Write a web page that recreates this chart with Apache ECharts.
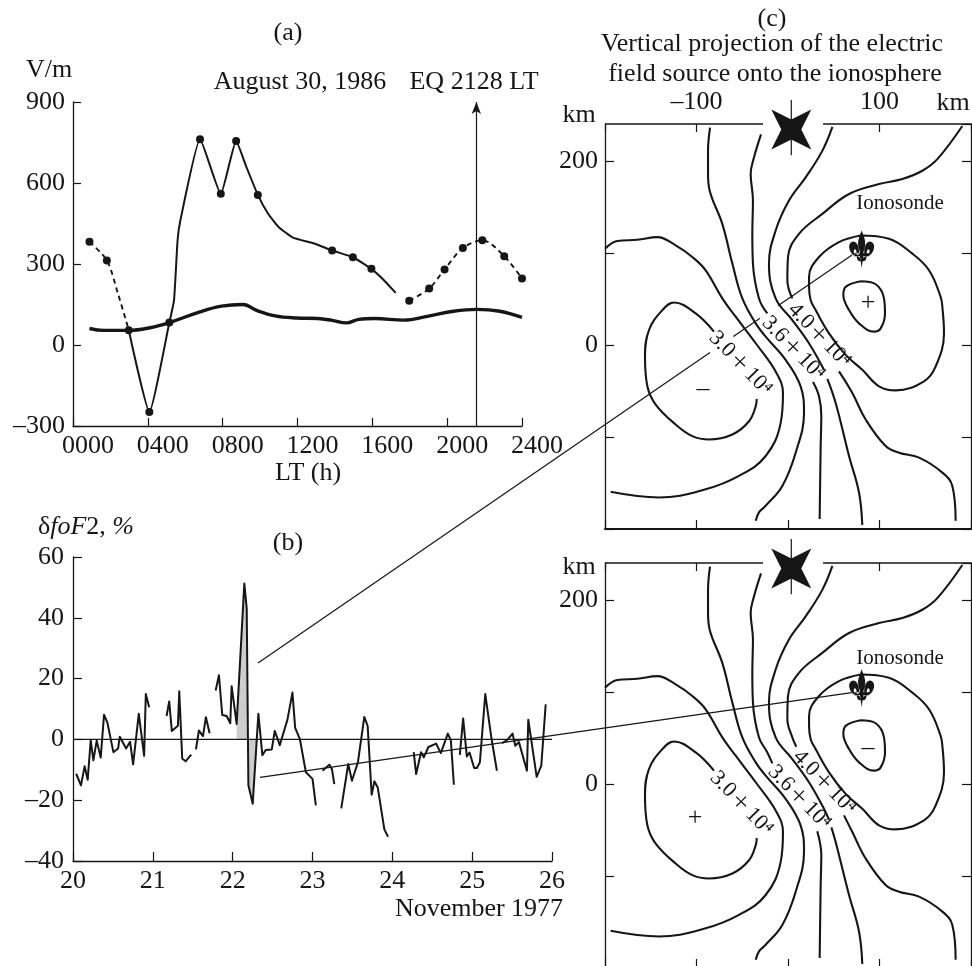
<!DOCTYPE html>
<html><head><meta charset="utf-8">
<style>html,body{margin:0;padding:0;background:#fff}#c{width:972px;height:966px}</style>
<script src="https://cdn.jsdelivr.net/npm/echarts@6/dist/echarts.min.js"></script></head>
<body><div id="c"></div>
<script>
// ---------- panel (a): electric field, V/m vs local time
const aTimeTicks = ['0000','0400','0800','1200','1600','2000','2400'];
const aSolid = [[298,55],[408,-248],[515,83],[540,166],[559,388],[574,462],[679,762],[790,560],[872,756],[927,659],[988,556],[1042,487],[1099,437],[1175,398],[1290,376],[1385,350],[1496,325],[1595,282],[1662,240],[1725,193]];
const aDashLeft = [[88,382],[181,313],[240,191],[298,55]];
const aDashRight = [[1797,164],[1904,209],[1986,280],[2084,359],[2188,388],[2305,329],[2400,246]];
const aThick = [[88,61],[164,54],[298,54],[412,64],[515,83],[679,123],[794,144],[908,150],[985,127],[1080,108],[1194,100],[1309,98],[1385,91],[1462,82],[1528,95],[1614,98],[1767,92],[1900,107],[2034,125],[2158,132],[2282,125],[2400,102]];
const aDots = [[88,382],[181,313],[298,55],[408,-248],[515,83],[679,762],[790,560],[872,756],[988,556],[1385,350],[1496,325],[1595,282],[1797,164],[1904,209],[1986,280],[2084,359],[2188,388],[2305,329],[2400,246]];
const aQuakeTime = 2156;
// ---------- panel (b): delta foF2, % vs day of November 1977
const b1 = [[20.04,-11.3],[20.10,-15.1],[20.146,-8.8],[20.184,-13.3],[20.222,-0.2],[20.255,-6.9],[20.297,-0.4],[20.347,-6],[20.389,8.1],[20.431,5.5],[20.506,-4.2],[20.565,-3],[20.586,0.9],[20.665,-3],[20.715,-0.8],[20.753,-8.2],[20.824,8.4],[20.891,-5.4],[20.912,14.9],[20.954,10.6]];
const b2 = [[21.172,7.7],[21.205,12.5],[21.238,2.8],[21.314,4.5],[21.331,15.8],[21.368,-6.3],[21.41,-7.2],[21.481,-5]];
const b3 = [[21.54,-3.3],[21.577,2.9],[21.628,1.1],[21.665,7.3],[21.711,2]];
const b4 = [[21.787,16.1],[21.828,21.1],[21.87,8],[21.925,7.7],[21.97,5.3],[21.987,17.5],[22.05,5.1],[22.146,51.3],[22.176,43],[22.197,-15.1],[22.251,-21.2],[22.322,8.4],[22.372,-5.2],[22.414,-3.5],[22.49,-3.3],[22.527,2.8],[22.59,-1.9],[22.686,6.5],[22.749,15.4],[22.783,3.8],[22.841,0.2],[22.917,-10.8],[23.0,-13],[23.042,-21.7]];
const b5 = [[23.126,-10.3],[23.21,-8.3],[23.243,-9.7],[23.273,-14.7]];
const b6 = [[23.36,-22.7],[23.448,-8.1],[23.494,-13.6],[23.569,-7.5],[23.649,7.4],[23.691,4.4],[23.741,-18.2],[23.775,-13.8],[23.817,-15.8],[23.9,-29.6],[23.946,-32]];
const b7 = [[24.268,-4.2],[24.298,-11.4],[24.36,-4.2],[24.394,-5.9],[24.452,-2.5],[24.549,-1.4],[24.607,-4.5],[24.695,1.9],[24.733,-0.3],[24.771,-14.9]];
const b8 = [[24.845,-5.1],[24.887,6.9],[24.933,-5.6],[24.967,-4.3],[25.025,-9.4],[25.059,-9.4],[25.097,-7.5],[25.164,14.9],[25.239,0.8],[25.31,-10.3]];
const b9 = [[25.373,-1.2],[25.435,-0.3],[25.506,1.9],[25.54,-2.1],[25.586,-0.9],[25.686,-10.3],[25.703,6.5],[25.808,-12.3],[25.866,-8.6],[25.921,11.5]];
const bShade = [[22.05,0],[22.05,5.1],[22.146,51.3],[22.176,43],[22.19,0],[22.197,-15.1],[22.251,-21.2],[22.31,0]];
// ---------- panel (c): contour lines, km
const c1 = [[-200,104.5],[-186.5,112.8],[-164.7,114.2],[-142.8,117.1],[-122.8,108.1],[-104.6,95.5],[-90,81.1],[-71.8,50.5],[-57.2,30.6],[-35.3,1.8],[-13.5,-28.8],[-5.5,-52.3],[-8,-84.7],[-24.4,-120.7],[-53.6,-142.3],[-90,-156.8],[-141,-165.8],[-193.8,-159.6]];
const c2 = [[-85.2,236],[-87.4,210.8],[-87.4,185.6],[-85.6,167.6],[-71.8,131.5],[-60.8,88.3],[-49.9,50.5],[-35.3,23.4],[-24.4,9],[-2.6,-16.2],[13.8,-45],[17.5,-73.9],[8.4,-117.1],[-6.2,-153.2],[-24.4,-174.8],[-31.7,-182],[-35.3,-191]];
const c3Head = [[-29.5,228.8],[-37.2,203.6],[-40.8,185.6],[-38.3,156.8],[-39,120.7],[-38.3,88.3],[-31.7,50.5],[-22.6,34.2]];
const c3Tail = [[27.3,-40.4],[33.9,-55.9],[36.4,-77.5],[35.7,-109.9],[34.6,-189.2]];
const c3HeadLow = [[-17.1,22.3]];
const c3TailLow = [[32,-51.5],[36.4,-77.5],[35.7,-109.9],[34.6,-189.2]];
const c4Head = [[48.5,236.8],[37.5,210.8],[19.3,182],[1.1,156.8],[-13.5,124.3],[-20.8,88.3],[-13.5,50.5],[4.7,27],[22.9,1.8],[39.3,-27]];
const c4Tail = [[43,-36.8],[52.1,-63.1],[66.7,-120.7],[77.6,-160.4],[81.2,-195.7]];
const c4HeadLow = [[44.8,-38.9]];
const c4TailLow = [[47.4,-47.2],[52.1,-63.1],[66.7,-120.7],[77.6,-160.4],[81.2,-195.7]];
const c5Head = [[190.5,237.8],[163.2,201.8],[146.8,189.2],[125,180.2],[99.5,174.8],[66.7,164],[37.5,142.3],[12,120.7],[0,95.5],[-0.7,70.3],[4.7,50.5]];
const c5Tail = [[55.7,-28.8],[70.3,-52.3],[84.9,-81.1],[106.7,-109.9],[121.3,-117.1],[143.2,-122.5],[168.7,-138.7],[179.6,-153.2],[183.2,-191]];
const c5HeadLow = [[9.1,40.4]];
const c5TailLow = [[61.2,-34.2],[70.3,-52.3],[84.9,-81.1],[106.7,-109.9],[121.3,-117.1],[143.2,-122.5],[168.7,-138.7],[179.6,-153.2],[183.2,-191]];
const c6 = [[79.4,118.9],[110.4,115.3],[135.9,99.1],[154.1,81.1],[166.8,52.3],[168.7,41.4],[170.5,12.6],[161.4,-23.4],[148.6,-39.6],[117.7,-49.4],[99.5,-45],[81.2,-27],[63,-10.8],[44.8,12.6],[30.2,37.8],[24.8,48.6],[23,63.1],[23,73.9],[33.9,95.5],[55.7,111.7],[79.4,118.9]];
const c7 = [[79.4,69.2],[95.8,65.9],[104.9,50.5],[106,34.2],[101.3,18],[94,14.4],[77.6,23.4],[66.7,37.8],[60.5,54.1],[63,63.1],[79.4,69.2]];
const c8 = [[-80.9,14.4],[-100.9,34.2],[-124.6,46.1],[-137.3,37.8],[-151.9,16.2],[-156.3,-12.6],[-153.7,-45],[-144.6,-64.9],[-122.8,-86.5],[-104.6,-99.1],[-86.3,-102.7],[-60.8,-97.3],[-42.6,-82.9],[-35.3,-66.7],[-34.2,-58.7]];
const source = [3.6,234];
const ionosonde = [80.5,104];
const contourMantissa = ['3.0','3.6','4.0'];

const INK = '#161616', FONT = '"Liberation Serif"', FS = 26;
const axisLine = {show:true,onZero:false,lineStyle:{color:INK,width:1.3}};
const STAR = 'path://M0,0 L20,10 L40,0 L30,20 L40,40 L20,30 L0,40 L10,20 Z';
const FLEUR = 'path://M37,0 C41,14 51,30 47,48 C45,58 42,66 42,74 L32,74 C32,66 29,58 27,48 C23,30 33,14 37,0 Z M46,74 C42,60 48,34 62,34 C72,34 77,46 74,56 C72,64 66,76 58,76 C62,68 62,60 58,58 C54,58 52,64 52,74 Z M28,74 C32,60 26,34 12,34 C2,34 -3,46 0,56 C2,64 8,76 16,76 C12,68 12,60 16,58 C20,58 22,64 22,74 Z M14,70 L60,70 L60,79 L14,79 Z M32,79 L42,79 L37,115 Z M22,78 C22,90 28,96 34,94 L34,84 Z M52,78 C52,90 46,96 40,94 L40,84 Z';

const series = [];
function line(x, y, data, o) {
  o = o || {};
  series.push(Object.assign({type:'line',xAxisIndex:x,yAxisIndex:y,data,showSymbol:false,symbol:'none',silent:true,
    smooth:o.smooth||false,lineStyle:Object.assign({color:INK,width:1.8,join:'round'},o.ls||{})},o.extra||{}));
}
// panel a
line(0,0,aSolid,{smooth:0.15,ls:{width:2}});
line(0,0,aDashLeft,{smooth:0.3,ls:{width:1.9,type:[5,4]}});
line(0,0,aDashRight,{smooth:0.3,ls:{width:1.9,type:[5,4]}});
line(0,0,aThick,{smooth:0.4,ls:{width:3.4}});
series.push({type:'scatter',xAxisIndex:0,yAxisIndex:0,data:aDots,symbol:'circle',symbolSize:8,itemStyle:{color:INK,opacity:1},silent:true,z:5});
line(0,0,[],{extra:{markLine:{silent:true,symbol:['none','arrow'],symbolSize:[7,12],label:{show:false},
  lineStyle:{color:INK,width:1.2,type:'solid'},
  data:[[{coord:[aQuakeTime,-300]},{coord:[aQuakeTime,900]}]]}}});
// panel b
series.push({type:'line',xAxisIndex:1,yAxisIndex:1,data:bShade,symbol:'none',showSymbol:false,lineStyle:{width:0},areaStyle:{color:'#cbcdce',opacity:1,origin:0},silent:true,z:1});
line(1,1,[[20,0],[26,0]],{ls:{width:1.3}});
[b1,b2,b3,b4,b5,b6,b7,b8,b9].forEach(b=>line(1,1,b,{ls:{width:2}}));
// panels c
function panel(xt,xb,yl,low){
  const sm={smooth:0.4,ls:{width:2.1}};
  line(xb,yl,c1,sm);line(xb,yl,c2,sm);
  line(xb,yl,low?c3Head.concat(c3HeadLow):c3Head,sm);line(xb,yl,low?c3TailLow:c3Tail,sm);
  line(xb,yl,low?c4Head.concat(c4HeadLow):c4Head,sm);line(xb,yl,low?c4TailLow:c4Tail,sm);
  line(xb,yl,low?c5Head.concat(c5HeadLow):c5Head,sm);line(xb,yl,low?c5TailLow:c5Tail,sm);
  line(xb,yl,c6,sm);line(xb,yl,c7,sm);line(xb,yl,c8,sm);
  line(xb,yl,[[-200,240],[-27.3,240]],{ls:{width:1.5},extra:{clip:false}});
  line(xb,yl,[[38.3,240],[200,240]],{ls:{width:1.5},extra:{clip:false}});
  line(xb,yl,[[source[0],266],[source[0],206]],{ls:{width:1.2},extra:{clip:false,z:7}});
  series.push({type:'scatter',xAxisIndex:xb,yAxisIndex:yl,data:[source],symbol:STAR,symbolSize:40,itemStyle:{color:INK,opacity:1},silent:true,clip:false,z:6});
  series.push({type:'scatter',xAxisIndex:xb,yAxisIndex:yl,data:[ionosonde],symbol:FLEUR,symbolSize:[25,38],symbolKeepAspect:false,itemStyle:{color:INK,opacity:1},silent:true,clip:false,z:6});
}
panel(2,3,2,false);panel(4,5,4,true);

const tickIn = len => ({show:true,inside:true,length:len,lineStyle:{color:INK,width:1.2}});
const lbl = (o) => Object.assign({color:INK,fontFamily:FONT,fontSize:FS},o);
function cAxesX(gi,labels){return [
  {type:'value',gridIndex:gi,position:'top',min:-200,max:200,interval:100,axisLine:{show:false,onZero:false},axisTick:tickIn(8),splitLine:{show:false},
   axisLabel:labels?lbl({margin:9,formatter:v=>v===-100?'–100':v===100?'100':''}):{show:false}},
  {type:'value',gridIndex:gi,position:'bottom',min:-200,max:200,interval:100,axisLine:{show:true,onZero:false,lineStyle:{color:INK,width:2}},axisTick:tickIn(9),splitLine:{show:false},axisLabel:{show:false}}
];}
function cAxesY(gi){return [
  {type:'value',gridIndex:gi,position:'left',min:-200,max:240,interval:100,axisLine,axisTick:tickIn(9),splitLine:{show:false},
   axisLabel:lbl({margin:7,showMaxLabel:false,formatter:v=>(v===0||v===200)?String(v):''})},
  {type:'value',gridIndex:gi,position:'right',min:-200,max:240,interval:100,axisLine,axisTick:tickIn(9),splitLine:{show:false},axisLabel:{show:false}}
];}

const T=(text,x,y,o)=>{o=o||{};return {type:'text',x,y,rotation:o.rot||0,z:20,silent:true,style:Object.assign({text,x:0,y:0,fill:INK,
  fontFamily:FONT,fontSize:o.fs||FS,fontStyle:o.italic?'italic':'normal',align:o.align||'center',verticalAlign:'middle'},o.style||{})}};
const L=(x1,y1,x2,y2)=>({type:'line',z:10,silent:true,shape:{x1,y1,x2,y2},style:{stroke:INK,lineWidth:1.2}});
const ROT=-0.8, C=Math.cos(0.8), S=Math.sin(0.8);
function contourText(i,cx,cy){
  return [
    T(contourMantissa[i],cx-26*C,cy-26*S,{fs:22,rot:ROT}),
    T('×',cx,cy,{fs:26}),
    T('10⁴',cx+26*C,cy+26*S,{fs:22,rot:ROT})
  ];
}
const graphic=[
 T('(a)',288,33),T('V/m',26,70,{align:'left'}),
 T('August 30, 1986',300,82),T('EQ 2128 LT',474,82),
 T('LT (h)',308,473),T('(b)',288,543),
 T('δ{i|foF}2, {i|%}',38,527,{align:'left',style:{rich:{i:{fontStyle:'italic',fontFamily:FONT,fontSize:FS,fill:INK}}}}),
 T('November 1977',479,909),
 T('(c)',772,19),T('Vertical projection of the electric',772,44),T('field source onto the ionosphere',775,74),
 T('km',953,103),T('km',579,115),T('km',579,567),
 T('Ionosonde',900,203,{fs:21}),T('Ionosonde',900,658,{fs:21}),
 T('+',868,303),T('–',703,389),T('–',868,748),T('+',695,818),
 ...contourText(0,740,363),...contourText(1,793,348),...contourText(2,819,335),
 ...contourText(0,741,803),...contourText(1,799,797),...contourText(2,824,782),
 L(258,663,710,352.5),L(733.3,336.5,760,318.2),L(778,305.8,852,255),
 L(260,777.3,851.7,692.7)
];

const gridBase={outerBoundsMode:'none',containLabel:false};
const option={
 backgroundColor:'#fff',animation:false,
 grid:[Object.assign({left:73,top:102,width:449,height:324},gridBase),Object.assign({left:73,top:557,width:479,height:304},gridBase),Object.assign({left:605,top:124,width:366,height:405},gridBase),Object.assign({left:605,top:563,width:366,height:405},gridBase)],
 xAxis:[
  {type:'value',gridIndex:0,min:0,max:2400,interval:400,axisLine,axisTick:tickIn(8),splitLine:{show:false},
   axisLabel:lbl({margin:7,padding:[0,0,0,30],formatter:v=>aTimeTicks[v/400]})},
  {type:'value',gridIndex:1,min:20,max:26,interval:1,axisLine,axisTick:tickIn(9),splitLine:{show:false},axisLabel:lbl({margin:7})},
  ...cAxesX(2,true),...cAxesX(3,false)
 ],
 yAxis:[
  {type:'value',gridIndex:0,min:-300,max:900,interval:300,axisLine,axisTick:tickIn(8),splitLine:{show:false},axisLabel:lbl({margin:8,formatter:v=>String(v).replace('-','–')})},
  {type:'value',gridIndex:1,min:-40,max:60,interval:20,axisLine,axisTick:tickIn(9),splitLine:{show:false},axisLabel:lbl({margin:9,formatter:v=>String(v).replace('-','–')})},
  ...cAxesY(2),...cAxesY(3)
 ],
 series,graphic
};
echarts.init(document.getElementById('c'),null,{renderer:'canvas'}).setOption(option);
</script></body></html>
